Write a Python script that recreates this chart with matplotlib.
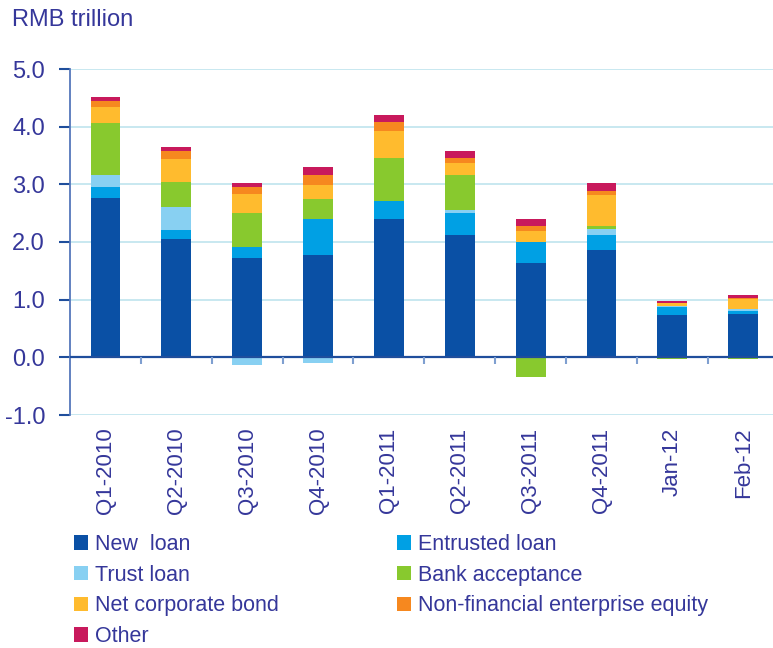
import numpy as np
import matplotlib
matplotlib.use("Agg")
import matplotlib.pyplot as plt
from matplotlib.patches import Patch

categories = ["Q1-2010", "Q2-2010", "Q3-2010", "Q4-2010", "Q1-2011",
              "Q2-2011", "Q3-2011", "Q4-2011", "Jan-12", "Feb-12"]
new_loan   = [2.77, 2.05, 1.72, 1.77, 2.40, 2.12, 1.63, 1.86, 0.73, 0.75]
entrusted  = [0.18, 0.15, 0.19, 0.63, 0.31, 0.38, 0.37, 0.26, 0.14, 0.05]
trust      = [0.21, 0.40, -0.13, -0.10, 0.00, 0.05, 0.00, 0.10, 0.02, 0.03]
bank_acc   = [0.90, 0.44, 0.59, 0.34, 0.75, 0.61, -0.34, 0.05, -0.03, -0.03]
bond       = [0.28, 0.40, 0.33, 0.24, 0.46, 0.21, 0.19, 0.54, 0.05, 0.18]
equity     = [0.10, 0.14, 0.12, 0.19, 0.16, 0.09, 0.08, 0.07, 0.01, 0.02]
other      = [0.07, 0.07, 0.07, 0.13, 0.12, 0.12, 0.13, 0.14, 0.03, 0.05]

series_names = ["New  loan", "Entrusted loan", "Trust loan", "Bank acceptance",
                "Net corporate bond", "Non-financial enterprise equity", "Other"]
series_vals = [new_loan, entrusted, trust, bank_acc, bond, equity, other]
colors = ["#0a50a5", "#00a0e4", "#88d0f2", "#88c92e", "#ffbb2e", "#f6881f", "#c8195c"]
yticks = [-1.0, 0.0, 1.0, 2.0, 3.0, 4.0, 5.0]

plt.rcParams['font.family'] = ['Liberation Sans', 'DejaVu Sans']
txt = "#35379a"

fig = plt.figure(figsize=(7.73, 6.48), dpi=100)
W, H = 773, 648
ax = fig.add_axes([70 / W, (H - 415) / H, (W - 70) / W, (415 - 69) / H])

x = np.arange(len(categories))
pos_base = np.zeros(len(categories))
neg_base = np.zeros(len(categories))
for vals, c in zip(series_vals, colors):
    v = np.array(vals)
    base = np.where(v >= 0, pos_base, neg_base)
    ax.bar(x, v, width=0.42, bottom=base, color=c, zorder=3, linewidth=0)
    pos_base = pos_base + np.where(v > 0, v, 0)
    neg_base = neg_base + np.where(v < 0, v, 0)

ax.set_ylim(-1.0, 5.0)
ax.set_xlim(-0.5, 9.42)
ax.set_yticks(yticks)
ax.set_yticklabels([f"{t:.1f}" for t in yticks], color=txt, fontsize=17)
for t in yticks:
    ax.axhline(t, color="#bfe4ee", linewidth=1.2, zorder=1)
ax.axhline(0, color="#1f4e9c", linewidth=1.6, zorder=4)
ax.vlines(x[1:] - 0.5, -0.11, 0, color="#7f9fd0", linewidth=1.5, zorder=4)

for s in ["top", "right", "bottom"]:
    ax.spines[s].set_visible(False)
ax.spines["left"].set_color("#5577bb")
ax.spines["left"].set_linewidth(1.3)
ax.tick_params(axis="y", length=8, width=1.5, color="#1f4e9c", pad=10)
ax.set_xticks(x)
ax.set_xticklabels(categories, rotation=90, color=txt, fontsize=16)
ax.tick_params(axis="x", length=0, pad=9)

fig.text(12 / W, 1 - 20 / H, "RMB trillion", color=txt, fontsize=17, va="center", ha="left")

order = [0, 2, 4, 6, 1, 3, 5]
handles = [Patch(facecolor=colors[i], edgecolor="none") for i in order]
labels = [series_names[i] for i in order]
leg = fig.legend(handles, labels, ncol=2, loc="upper left",
                 bbox_to_anchor=(74 / W, 1 - 534 / H), frameon=False,
                 fontsize=15.5, handlelength=0.65, handleheight=0.65,
                 handletextpad=0.33, labelspacing=0.45, columnspacing=5.5,
                 borderaxespad=0, borderpad=0)
for t in leg.get_texts():
    t.set_color(txt)

fig.savefig("out.png", dpi=100)
